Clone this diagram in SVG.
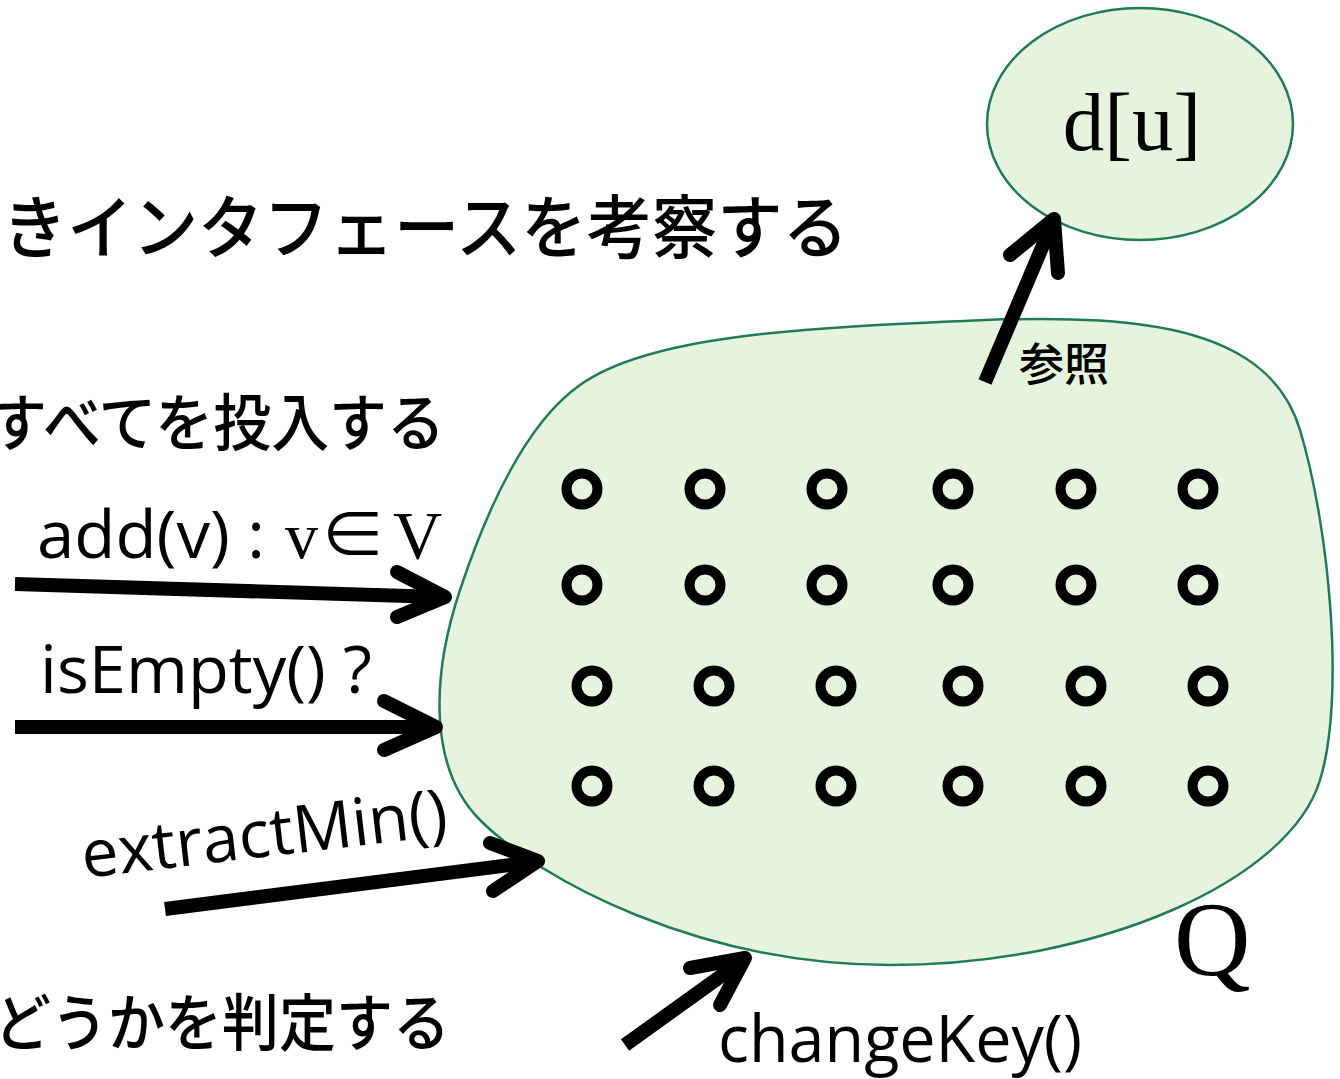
<svg xmlns="http://www.w3.org/2000/svg" width="1340" height="1079" viewBox="0 0 1340 1079">
<style>
.jp{font-family:"Noto Sans CJK JP","Noto Sans",sans-serif;fill:#000;font-weight:500}
.sans{font-family:"Open Sans","Liberation Sans",sans-serif;fill:#000}
.serif{font-family:"Liberation Serif","DejaVu Serif",serif;fill:#000}
.shape{fill:#e7f4dd;stroke:#217a5c;stroke-width:2.5}
.ring{fill:none;stroke:#000;stroke-width:10}
.arr{fill:none;stroke:#000;stroke-width:14;stroke-linecap:round;stroke-linejoin:round}
.shaft{fill:none;stroke:#000;stroke-width:14;stroke-linecap:butt}
</style>
<rect width="1340" height="1079" fill="#fff"/>
<g id="texts">
<text class="jp" x="2" y="253" font-size="69" textLength="846" lengthAdjust="spacingAndGlyphs">きインタフェースを考察する</text>
<text class="jp" x="-11" y="446" font-size="62" textLength="456" lengthAdjust="spacingAndGlyphs">すべてを投入する</text>
<text class="jp" x="-6" y="1046" font-size="62" textLength="456" lengthAdjust="spacingAndGlyphs">どうかを判定する</text>
</g>
<g id="queue">
<path class="shape" d="M 985,320 C 1150,314 1270,330 1300,430 C 1330,530 1345,700 1320,780 C 1290,880 1100,965 890,965 C 700,965 540,880 480,820 C 430,770 430,680 460,590 C 490,500 530,420 580,385 C 650,335 800,328 985,320 Z"/>
<text class="serif" x="1174" y="975" font-size="106">Q</text>
<g id="elements">
<circle class="ring" cx="582" cy="489" r="15.5"/><circle class="ring" cx="705" cy="489" r="15.5"/><circle class="ring" cx="827" cy="489" r="15.5"/><circle class="ring" cx="953" cy="489" r="15.5"/><circle class="ring" cx="1076" cy="489" r="15.5"/><circle class="ring" cx="1198" cy="489" r="15.5"/>
<circle class="ring" cx="582" cy="585" r="15.5"/><circle class="ring" cx="705" cy="585" r="15.5"/><circle class="ring" cx="827" cy="585" r="15.5"/><circle class="ring" cx="953" cy="585" r="15.5"/><circle class="ring" cx="1076" cy="585" r="15.5"/><circle class="ring" cx="1198" cy="585" r="15.5"/>
<circle class="ring" cx="592" cy="686" r="15.5"/><circle class="ring" cx="714" cy="686" r="15.5"/><circle class="ring" cx="836" cy="686" r="15.5"/><circle class="ring" cx="963" cy="686" r="15.5"/><circle class="ring" cx="1086" cy="686" r="15.5"/><circle class="ring" cx="1208" cy="686" r="15.5"/>
<circle class="ring" cx="592" cy="786" r="15.5"/><circle class="ring" cx="714" cy="786" r="15.5"/><circle class="ring" cx="836" cy="786" r="15.5"/><circle class="ring" cx="963" cy="786" r="15.5"/><circle class="ring" cx="1086" cy="786" r="15.5"/><circle class="ring" cx="1208" cy="786" r="15.5"/>
</g>
</g>
<g id="du">
<ellipse class="shape" cx="1140" cy="124" rx="153" ry="116"/>
<text class="serif" x="1132" y="150" font-size="83" text-anchor="middle">d[u]</text>
</g>
<g id="connectors">
<line class="shaft" x1="15" y1="584" x2="440" y2="597"/>
<polyline class="arr" points="397,572 445,597 397,617"/>
<line class="shaft" x1="15" y1="727" x2="432" y2="727"/>
<polyline class="arr" points="384,701 436,727 384,750"/>
<line class="shaft" x1="165" y1="909" x2="534" y2="862"/>
<polyline class="arr" points="490,843 538,861 493,891"/>
<line class="shaft" x1="625" y1="1045" x2="742" y2="961"/>
<polyline class="arr" points="690,968 745,958 720,1005"/>
<line class="shaft" x1="985" y1="382" x2="1052" y2="224"/>
<polyline class="arr" points="1010,255 1054,219 1058,273"/>
</g>
<g id="labels">
<text class="sans" x="37" y="558" font-size="66" textLength="228" lengthAdjust="spacingAndGlyphs">add(v) :</text>
<text class="serif" x="285" y="558" font-size="66">v</text>
<text class="jp" x="320" y="558" font-size="66" style="font-weight:400">∈</text>
<text class="serif" x="393" y="558" font-size="68">V</text>
<text class="sans" x="40" y="693" font-size="66" textLength="332" lengthAdjust="spacingAndGlyphs">isEmpty() ?</text>
<text class="sans" x="84" y="878" font-size="66" textLength="368" lengthAdjust="spacingAndGlyphs" transform="rotate(-6.7 84 878)">extractMin()</text>
<text class="sans" x="718" y="1062" font-size="66" textLength="364" lengthAdjust="spacingAndGlyphs">changeKey()</text>
<text class="jp" x="1019" y="381" font-size="45">参照</text>
</g>
</svg>
